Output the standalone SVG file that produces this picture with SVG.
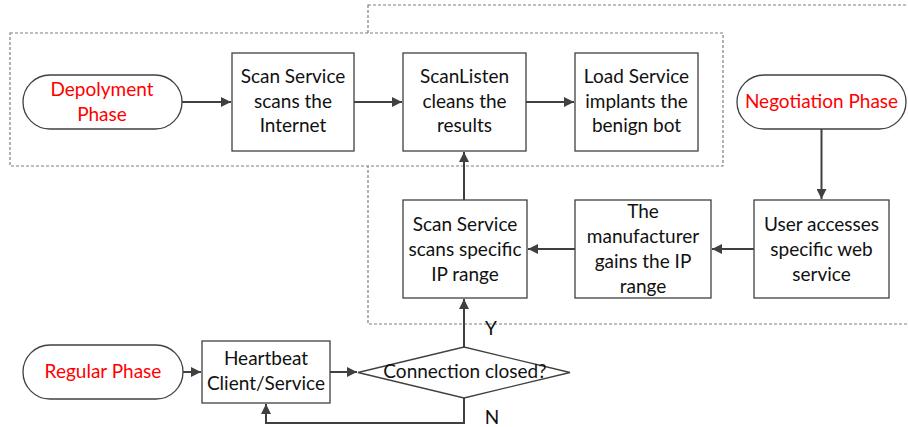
<svg xmlns="http://www.w3.org/2000/svg" width="908" height="427" viewBox="0 0 908 427">
<style>
text{font-family:Lato,"Liberation Sans",sans-serif;font-size:19px;fill:#111;text-anchor:middle}
.red{fill:#ff0000}
.box{fill:#fff;stroke:#404040;stroke-width:1.3}
.dash{fill:#fff;stroke:#7f7f7f;stroke-width:1.2;stroke-dasharray:3,2}
.con{fill:none;stroke:#404040;stroke-width:2}
</style>
<defs>
<marker id="ah" viewBox="0 0 10 10" refX="10" refY="5" markerWidth="5" markerHeight="5" orient="auto" markerUnits="strokeWidth">
<path d="M0,0L10,5L0,10z" fill="#404040"/>
</marker>
</defs>
<g id="negotiation-area"><rect class="dash" x="368" y="5" width="560" height="319"/></g>
<g id="deployment-area"><rect class="dash" x="10" y="33" width="713" height="133"/></g>
<g id="deployment-phase"><rect class="box" x="23" y="75" width="159" height="54" rx="27"/><text class="red" x="102" y="96">Depolyment</text><text class="red" x="102" y="121">Phase</text></g>
<g id="scan-service"><rect class="box" x="232" y="53" width="122" height="98"/><text x="293" y="83">Scan Service</text><text x="293" y="108">scans the</text><text x="293" y="132">Internet</text></g>
<g id="scanlisten"><rect class="box" x="403" y="53" width="123" height="98"/><text x="464.5" y="83">ScanListen</text><text x="464.5" y="108">cleans the</text><text x="464.5" y="132">results</text></g>
<g id="load-service"><rect class="box" x="575" y="53" width="123" height="98"/><text x="636.5" y="83">Load Service</text><text x="636.5" y="108">implants the</text><text x="636.5" y="132">benign bot</text></g>
<g id="negotiation-phase"><rect class="box" x="737" y="75" width="169" height="54" rx="27"/><text class="red" x="821.5" y="108">Negotiation Phase</text></g>
<g id="user-accesses"><rect class="box" x="754" y="200" width="135" height="98"/><text x="821.5" y="231">User accesses</text><text x="821.5" y="256">specific web</text><text x="821.5" y="281">service</text></g>
<g id="manufacturer"><rect class="box" x="575" y="200" width="136" height="98"/><text x="643" y="218">The</text><text x="643" y="243">manufacturer</text><text x="643" y="268">gains the IP</text><text x="643" y="293">range</text></g>
<g id="scan-specific"><rect class="box" x="403" y="200" width="124" height="98"/><text x="465" y="231">Scan Service</text><text x="465" y="256">scans specific</text><text x="465" y="281">IP range</text></g>
<g id="regular-phase"><rect class="box" x="23" y="345" width="160" height="54" rx="27"/><text class="red" x="103" y="378">Regular Phase</text></g>
<g id="heartbeat"><rect class="box" x="202" y="341" width="128" height="62"/><text x="266" y="365">Heartbeat</text><text x="266" y="390">Client/Service</text></g>
<g id="connection-closed"><polygon class="box" points="358,372.5 464,347 570,372.5 464,398"/><text x="465" y="378">Connection closed?</text></g>
<g id="connectors">
<line class="con" x1="182" y1="102" x2="231" y2="102" marker-end="url(#ah)"/>
<line class="con" x1="354" y1="102" x2="402" y2="102" marker-end="url(#ah)"/>
<line class="con" x1="526" y1="102" x2="574" y2="102" marker-end="url(#ah)"/>
<line class="con" x1="821.5" y1="129" x2="821.5" y2="199" marker-end="url(#ah)"/>
<line class="con" x1="754" y1="249" x2="712" y2="249" marker-end="url(#ah)"/>
<line class="con" x1="575" y1="249" x2="528" y2="249" marker-end="url(#ah)"/>
<line class="con" x1="464" y1="200" x2="464" y2="152" marker-end="url(#ah)"/>
<line class="con" x1="183" y1="372" x2="201" y2="372" marker-end="url(#ah)"/>
<line class="con" x1="330" y1="372" x2="357" y2="372" marker-end="url(#ah)"/>
<line class="con" x1="464" y1="347" x2="464" y2="299" marker-end="url(#ah)"/>
<polyline class="con" points="464,398 464,423 266,423 266,404" marker-end="url(#ah)"/>
<text x="491" y="335">Y</text>
<text x="492" y="424">N</text>
</g>
</svg>
